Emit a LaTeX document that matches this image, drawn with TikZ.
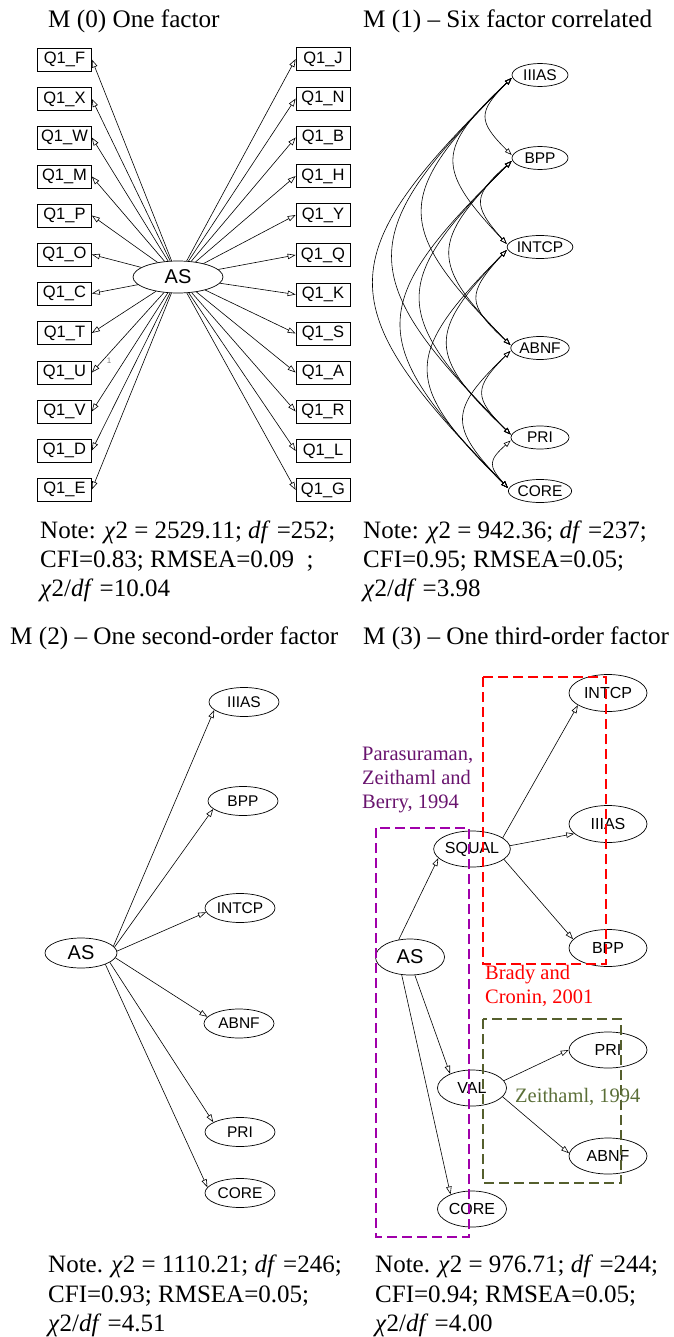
\documentclass[tikz,border=0pt]{standalone}
\usepackage{fontspec}
\setmainfont{Liberation Serif}
\newfontfamily\lblfont{Liberation Sans}
\usetikzlibrary{arrows.meta,shapes.geometric}
\definecolor{boxred}{RGB}{255,0,0}
\definecolor{boxpurple}{RGB}{160,0,170}
\definecolor{txtpurple}{RGB}{105,20,110}
\definecolor{boxolive}{RGB}{85,95,45}
\definecolor{txtolive}{RGB}{90,110,55}
\newcommand\setfs[2]{\fontsize{#1}{#2}\selectfont}

\tikzset{
  heading/.style={anchor=base west, inner sep=0pt, font=\setfs{25.2}{30}},
  notetext/.style={anchor=base west, inner sep=0pt, font=\setfs{25}{30}},
  citetext/.style={anchor=base west, inner sep=0pt, font=\setfs{20.5}{24}},
  obs/.style={draw, rectangle, line width=0.7pt, minimum width=54pt, minimum height=23pt,
    inner sep=0pt, font=\lblfont\setfs{16.5}{16.5}},
  lat/.style={draw, ellipse, line width=0.7pt, inner sep=0pt, font=\lblfont\setfs{15.5}{15.5}},
  bigfac/.style={lat, font=\lblfont\setfs{20}{20}},
  load/.style={-{Triangle[open, length=8pt, width=5.5pt]}, line width=0.6pt},
  cov/.style={{Triangle[open, length=7pt, width=5pt]}-{Triangle[open, length=7pt, width=5pt]}, line width=0.6pt},
  dashframe/.style={line width=2.6pt, dash pattern=on 10pt off 5pt},
}

\begin{document}
\begin{tikzpicture}[x=1pt, y=1pt]
\useasboundingbox (0,0) rectangle (673,-1337);

% ---------- panel titles ----------
\node[heading] (t0) at (48,-28) {M (0) One factor};
\node[heading] (t1) at (363,-28) {M (1) -- Six factor correlated};
\node[heading] (t2) at (10,-644) {M (2) -- One second-order factor};
\node[heading] (t3) at (363,-644) {M (3) -- One third-order factor};

% ---------- M(0): one factor ----------
\node[bigfac, minimum width=90pt, minimum height=32pt] (as0) at (178,-277) {AS};
\foreach \q/\yy in {F/59.5,X/99,W/137.5,M/176.5,P/215.5,O/254.5,C/293.5,T/333,U/372.5,V/411.5,D/450.5,E/489.5}
  \node[obs] (l\q) at (64.5,-\yy) {Q1\_\q};
\foreach \q/\yy in {J/59,N/98.5,B/137.5,H/176,Y/215,Q/255,K/294.5,S/333.5,A/372.5,R/411.5,L/451,G/490}
  \node[obs] (r\q) at (323,-\yy) {Q1\_\q};
\foreach \q in {F,X,W,M,P,O,C,T,U,V,D,E}
  \draw[load] (as0) -- (l\q.east);
\foreach \q in {J,N,B,H,Y,Q,K,S,A,R,L,G}
  \draw[load] (as0) -- (r\q.west);
\node[font=\lblfont\setfs{8}{8}, text=gray, inner sep=0pt] (fix1) at (109,-361) {1};

\node[notetext] (n0a) at (40,-538) {Note: \textit{χ}2 = 2529.11; \textit{df} =252;};
\node[notetext] (n0b) at (40,-567) {CFI=0.83; RMSEA=0.09\ \ ;};
\node[notetext] (n0c) at (40,-596) {\textit{χ}2/\textit{df} =10.04};

% ---------- M(1): six correlated factors ----------
\foreach \k/\lab/\yy/\ww in {1/IIIAS/75/56, 2/BPP/158/56, 3/INTCP/247/56, 4/ABNF/348/56, 5/PRI/437.5/58, 6/CORE/491/63}
  \node[lat, minimum width=\ww pt, minimum height=23pt] (c\k) at (540,-\yy) {\lab};
\foreach \i in {1,...,5}{
  \pgfmathtruncatemacro{\nxt}{\i+1}
  \foreach \j in {\nxt,...,6}
    \draw[cov] ([yshift=-3pt]c\i.west) to[bend right=45, looseness=1.6] ([yshift=3pt]c\j.west);
}

\node[notetext] (n1a) at (363,-538) {Note: \textit{χ}2 = 942.36; \textit{df} =237;};
\node[notetext] (n1b) at (363,-567) {CFI=0.95; RMSEA=0.05;};
\node[notetext] (n1c) at (363,-596) {\textit{χ}2/\textit{df} =3.98};

% ---------- M(2): one second-order factor ----------
\node[bigfac, minimum width=72pt, minimum height=30pt] (as2) at (81,-953) {AS};
\foreach \k/\lab/\xx/\yy in {1/IIIAS/244/702, 2/BPP/243/801, 3/INTCP/240/908, 4/ABNF/239/1023.5, 5/PRI/240/1132, 6/CORE/240/1193}
  \node[lat, minimum width=70pt, minimum height=29pt] (m\k) at (\xx,-\yy) {\lab};
\draw[load] (as2.12) -- (m1.195);
\draw[load] (as2.10) -- (m2.195);
\draw[load] (as2.3) -- (m3.187);
\draw[load] (as2.-8) -- (m4.168);
\draw[load] (as2.-18) -- (m5.160);
\draw[load] (as2.-25) -- (m6.170);

\node[notetext] (n2a) at (48,-1272) {Note. \textit{χ}2 = 1110.21; \textit{df} =246;};
\node[notetext] (n2b) at (48,-1302) {CFI=0.93; RMSEA=0.05;};
\node[notetext] (n2c) at (48,-1331) {\textit{χ}2/\textit{df} =4.51};

% ---------- M(3): one third-order factor ----------
\node[bigfac, minimum width=69pt, minimum height=36pt] (as3) at (410,-957) {AS};
\node[lat, font=\lblfont\setfs{16}{16}, minimum width=69pt, minimum height=36pt] (squal) at (472,-849) {SQUAL};
\node[lat, font=\lblfont\setfs{16}{16}, minimum width=69pt, minimum height=36pt] (val) at (472,-1088) {VAL};
\node[lat, font=\lblfont\setfs{16}{16}, minimum width=69pt, minimum height=36pt] (core3) at (472,-1209) {CORE};
\node[lat, font=\lblfont\setfs{16}{16}, minimum width=78pt, minimum height=37pt] (intcp3) at (608,-693) {INTCP};
\node[lat, font=\lblfont\setfs{16}{16}, minimum width=78pt, minimum height=37pt] (iiias3) at (608,-824) {IIIAS};
\node[lat, font=\lblfont\setfs{16}{16}, minimum width=78pt, minimum height=37pt] (bpp3) at (608,-948) {BPP};
\node[lat, font=\lblfont\setfs{16}{16}, minimum width=78pt, minimum height=36pt] (pri3) at (608,-1050) {PRI};
\node[lat, font=\lblfont\setfs{16}{16}, minimum width=78pt, minimum height=36pt] (abnf3) at (608,-1156) {ABNF};

\draw[load] (as3.123) -- (squal.195);
\draw[load] (squal.20) -- (intcp3.202);
\draw[load] (squal.5) -- (iiias3.196);
\draw[load] (squal.342) -- (bpp3.166);
\draw[load] (as3.285) -- (val.147);
\draw[load] (as3.245) -- (core3.146);
\draw[load] (val.13) -- (pri3.180);
\draw[load] (val.344) -- (abnf3.176);

% theory groupings
\draw[dashframe, boxred] (483,-677) rectangle (606,-964);
\draw[dashframe, boxpurple] (376,-828) rectangle (469,-1237);
\draw[dashframe, boxolive] (483,-1019) rectangle (621,-1183);

\node[citetext, text=txtpurple] (pz1) at (362,-760) {Parasuraman,};
\node[citetext, text=txtpurple] (pz2) at (362,-784) {Zeithaml and};
\node[citetext, text=txtpurple] (pz3) at (362,-808) {Berry, 1994};
\node[citetext, text=boxred] (bc1) at (485,-979) {Brady and};
\node[citetext, text=boxred] (bc2) at (485,-1003) {Cronin, 2001};
\node[citetext, text=txtolive] (zt1) at (515,-1102) {Zeithaml, 1994};

\node[notetext] (n3a) at (375,-1272) {Note. \textit{χ}2 = 976.71; \textit{df} =244;};
\node[notetext] (n3b) at (375,-1302) {CFI=0.94; RMSEA=0.05;};
\node[notetext] (n3c) at (375,-1331) {\textit{χ}2/\textit{df} =4.00};
\end{tikzpicture}
\end{document}
